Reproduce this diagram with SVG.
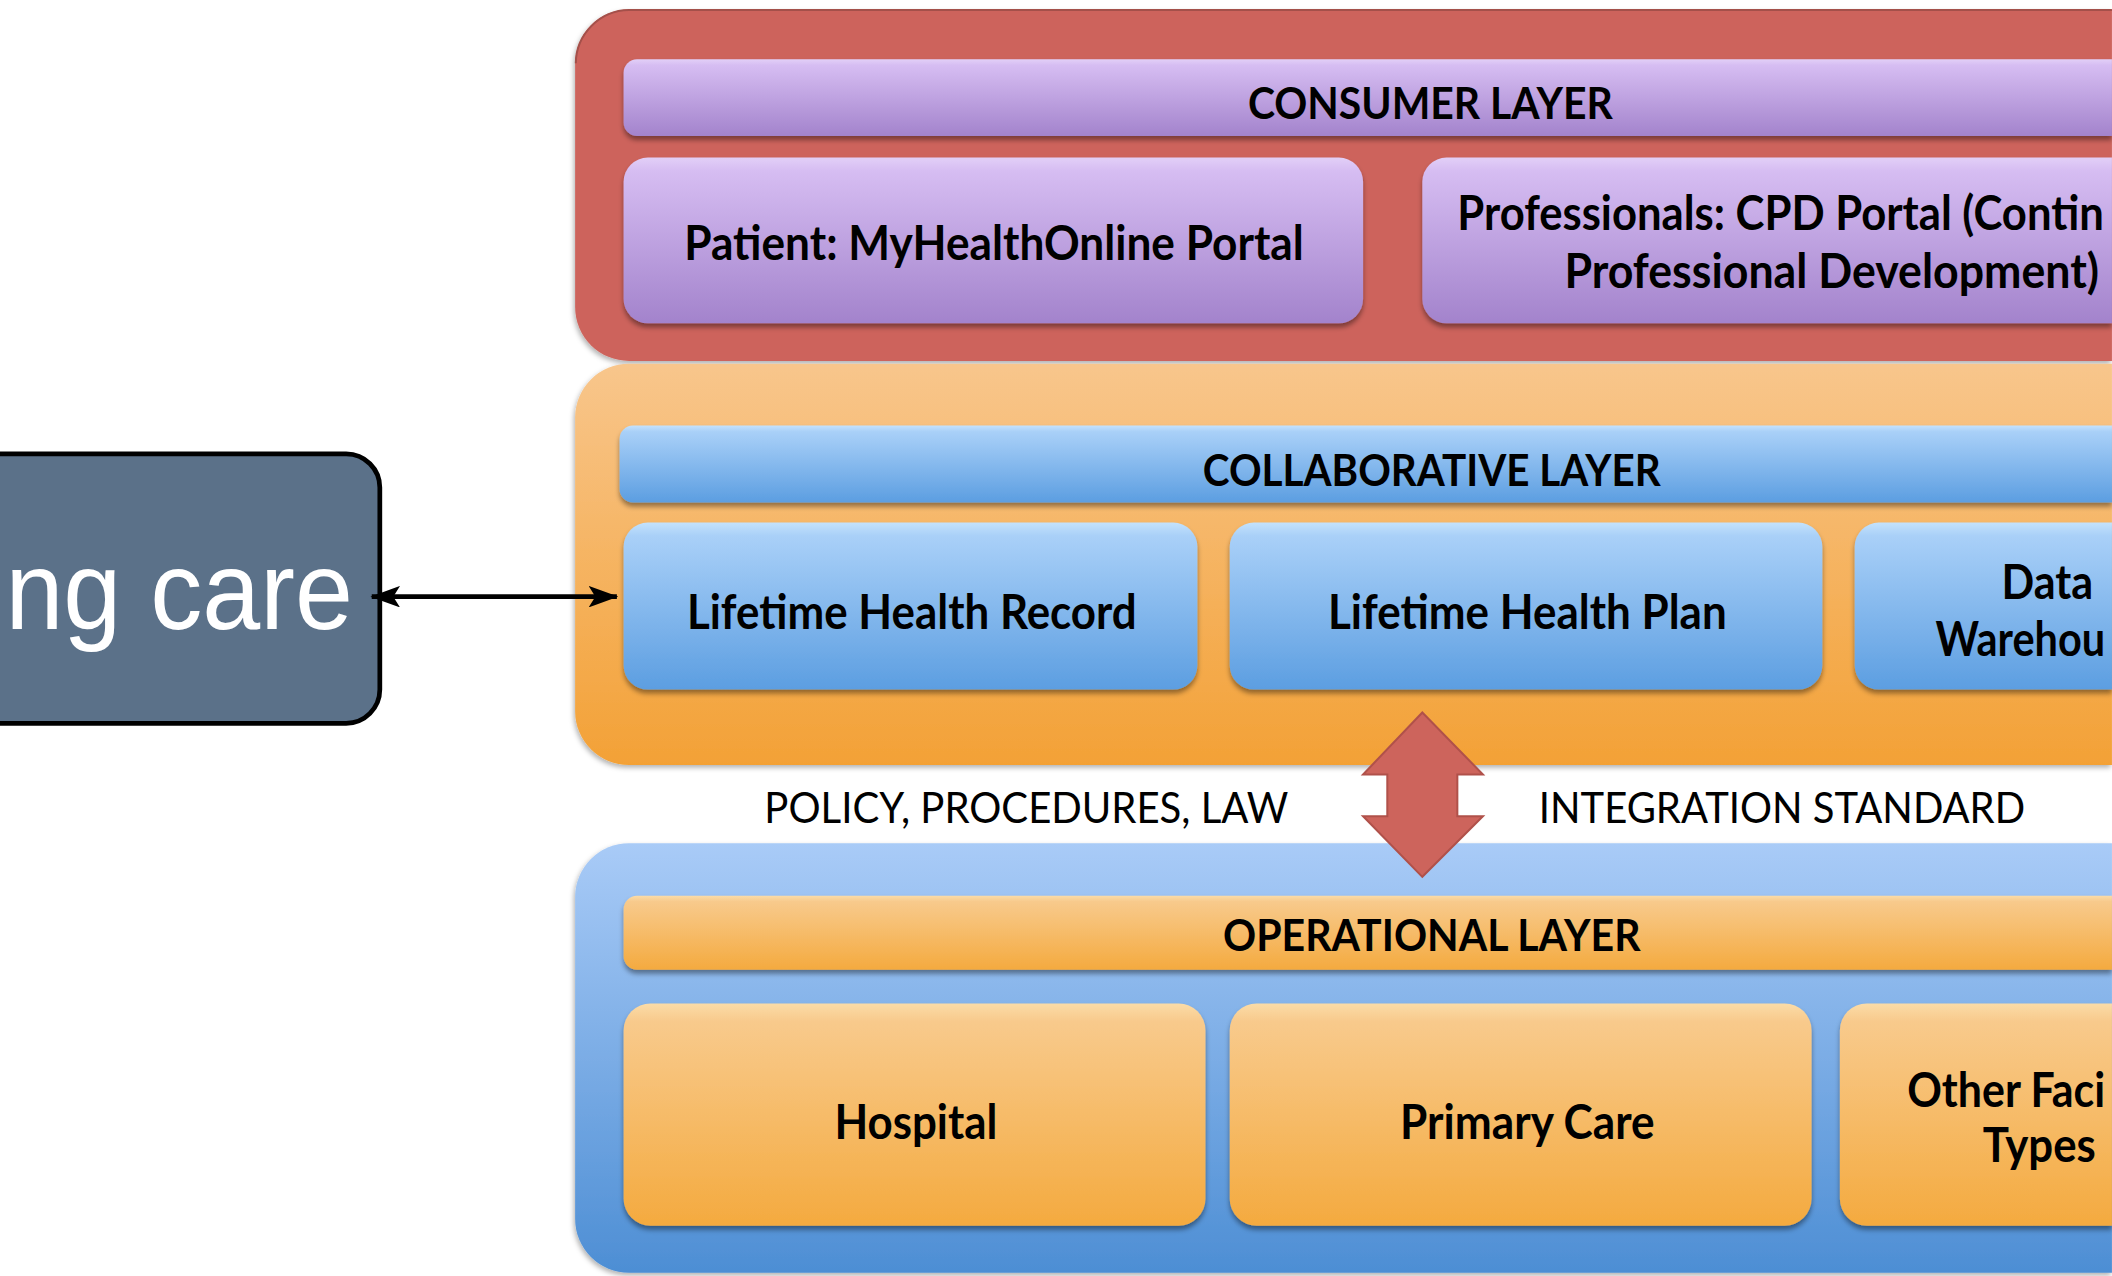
<svg xmlns="http://www.w3.org/2000/svg" width="2112" height="1276" viewBox="0 0 2112 1276">
<defs>
<linearGradient id="gPurple" x1="0" y1="0" x2="0" y2="1"><stop offset="0" stop-color="#e2cff7"/><stop offset="0.08" stop-color="#d6bdf2"/><stop offset="1" stop-color="#a383cc"/></linearGradient>
<linearGradient id="gBlue" x1="0" y1="0" x2="0" y2="1"><stop offset="0" stop-color="#c4e2fc"/><stop offset="0.08" stop-color="#a9d0f8"/><stop offset="1" stop-color="#5c9ee1"/></linearGradient>
<linearGradient id="gOrange" x1="0" y1="0" x2="0" y2="1"><stop offset="0" stop-color="#fbdca8"/><stop offset="0.08" stop-color="#f8ca8c"/><stop offset="1" stop-color="#f4aa3f"/></linearGradient>
<linearGradient id="gOrangeOuter" x1="0" y1="0" x2="0" y2="1"><stop offset="0" stop-color="#f8c68c"/><stop offset="1" stop-color="#f3a136"/></linearGradient>
<linearGradient id="gBlueOuter" x1="0" y1="0" x2="0" y2="1"><stop offset="0" stop-color="#a9cbf7"/><stop offset="1" stop-color="#4d8ed4"/></linearGradient>
<filter id="sh" x="-5%" y="-10%" width="110%" height="130%"><feDropShadow dx="0" dy="3" stdDeviation="2" flood-color="#000" flood-opacity="0.4"/></filter>
<filter id="shOuter" x="-5%" y="-5%" width="110%" height="115%"><feDropShadow dx="-1" dy="2" stdDeviation="2" flood-color="#000" flood-opacity="0.3"/></filter>
<marker id="ah" viewBox="0 0 22 16" refX="21" refY="8" markerWidth="22" markerHeight="16" markerUnits="userSpaceOnUse" orient="auto-start-reverse"><path d="M0 0 L22 8 L0 16 L5 8 Z" fill="#000"/></marker>
<style>
.lbl{font-family:Lato,"Open Sans","Liberation Sans",sans-serif;font-weight:700;font-size:36px;fill:#000;text-anchor:middle}
.hdr{font-family:Lato,"Open Sans","Liberation Sans",sans-serif;font-weight:700;font-size:32px;fill:#000;text-anchor:middle}
.st{text-anchor:start}
.side{font-family:Lato,"Open Sans","Liberation Sans",sans-serif;font-weight:400;font-size:31px;fill:#000;text-anchor:middle}
.big{font-family:"Liberation Sans",Arial,sans-serif;font-size:82px;fill:#fff;text-anchor:end}
</style>
</defs>
<rect width="2112" height="1276" fill="#fff"/>
<g transform="scale(1.3469)">
  <g id="left-node">
    <path d="M0 337 H257 A25 25 0 0 1 282 362 V512 A25 25 0 0 1 257 537 H0 Z" fill="#5b7189"/>
    <path d="M0 337 H257 A25 25 0 0 1 282 362 V512 A25 25 0 0 1 257 537 H0" fill="none" stroke="#000" stroke-width="3.5"/>
    <text class="big" x="262" y="467" textLength="258" lengthAdjust="spacingAndGlyphs">ng care</text>
  </g>

  <g id="consumer-layer">
    <path d="M1568 7 H467 A40 40 0 0 0 427 47 V228 A40 40 0 0 0 467 268 H1568 Z" fill="#cd645c" filter="url(#shOuter)"/>
    <path d="M1568 7.5 H467 A40 40 0 0 0 427.5 47" fill="none" stroke="#a4504a" stroke-width="1.5"/>
    <g id="consumer-header">
      <path d="M1568 44 H473 A10 10 0 0 0 463 54 V91 A10 10 0 0 0 473 101 H1568 Z" fill="url(#gPurple)" filter="url(#sh)"/>
      <text class="hdr" x="1062" y="88" textLength="271" lengthAdjust="spacingAndGlyphs">CONSUMER LAYER</text>
    </g>
    <g id="patient-portal">
      <rect x="463" y="117" width="549" height="123" rx="18" fill="url(#gPurple)" filter="url(#sh)"/>
      <text class="lbl" x="738" y="193" textLength="460" lengthAdjust="spacingAndGlyphs">Patient: MyHealthOnline Portal</text>
    </g>
    <g id="cpd-portal">
      <path d="M1568 117 H1074 A18 18 0 0 0 1056 135 V222 A18 18 0 0 0 1074 240 H1568 Z" fill="url(#gPurple)" filter="url(#sh)"/>
      <text class="lbl st" x="1082" y="171" textLength="480" lengthAdjust="spacingAndGlyphs">Professionals: CPD Portal (Contin</text>
      <text class="lbl" x="1360" y="214" textLength="397" lengthAdjust="spacingAndGlyphs">Professional Development)</text>
    </g>
  </g>

  <g id="collaborative-layer">
    <path d="M1568 270 H467 A40 40 0 0 0 427 310 V528 A40 40 0 0 0 467 568 H1568 Z" fill="url(#gOrangeOuter)" filter="url(#shOuter)"/>
    <g id="collab-header">
      <path d="M1568 316 H470 A10 10 0 0 0 460 326 V363 A10 10 0 0 0 470 373 H1568 Z" fill="url(#gBlue)" filter="url(#sh)"/>
      <text class="hdr" x="1063" y="361" textLength="340" lengthAdjust="spacingAndGlyphs">COLLABORATIVE LAYER</text>
    </g>
    <g id="lifetime-record">
      <rect x="463" y="388" width="426" height="124" rx="18" fill="url(#gBlue)" filter="url(#sh)"/>
      <text class="lbl" x="677" y="467" textLength="334" lengthAdjust="spacingAndGlyphs">Lifetime Health Record</text>
    </g>
    <g id="lifetime-plan">
      <rect x="913" y="388" width="440" height="124" rx="18" fill="url(#gBlue)" filter="url(#sh)"/>
      <text class="lbl" x="1134" y="467" textLength="296" lengthAdjust="spacingAndGlyphs">Lifetime Health Plan</text>
    </g>
    <g id="data-warehouse">
      <path d="M1568 388 H1395 A18 18 0 0 0 1377 406 V494 A18 18 0 0 0 1395 512 H1568 Z" fill="url(#gBlue)" filter="url(#sh)"/>
      <text class="lbl" x="1520" y="445" textLength="68" lengthAdjust="spacingAndGlyphs">Data</text>
      <text class="lbl st" x="1437" y="487" textLength="126" lengthAdjust="spacingAndGlyphs">Warehou</text>
    </g>
  </g>

  <g id="operational-layer">
    <path d="M1568 626 H467 A40 40 0 0 0 427 666 V905 A40 40 0 0 0 467 945 H1568 Z" fill="url(#gBlueOuter)" filter="url(#shOuter)"/>
    <g id="oper-header">
      <path d="M1568 665 H473 A10 10 0 0 0 463 675 V710 A10 10 0 0 0 473 720 H1568 Z" fill="url(#gOrange)" filter="url(#sh)"/>
      <text class="hdr" x="1063" y="706" textLength="310" lengthAdjust="spacingAndGlyphs">OPERATIONAL LAYER</text>
    </g>
    <g id="hospital">
      <rect x="463" y="745" width="432" height="165" rx="20" fill="url(#gOrange)" filter="url(#sh)"/>
      <text class="lbl" x="680" y="846" textLength="121" lengthAdjust="spacingAndGlyphs">Hospital</text>
    </g>
    <g id="primary-care">
      <rect x="913" y="745" width="432" height="165" rx="20" fill="url(#gOrange)" filter="url(#sh)"/>
      <text class="lbl" x="1134" y="846" textLength="189" lengthAdjust="spacingAndGlyphs">Primary Care</text>
    </g>
    <g id="other-facility">
      <path d="M1568 745 H1386 A20 20 0 0 0 1366 765 V890 A20 20 0 0 0 1386 910 H1568 Z" fill="url(#gOrange)" filter="url(#sh)"/>
      <text class="lbl st" x="1416" y="822" textLength="147" lengthAdjust="spacingAndGlyphs">Other Faci</text>
      <text class="lbl" x="1514" y="863" textLength="84" lengthAdjust="spacingAndGlyphs">Types</text>
    </g>
  </g>

  <g id="side-labels">
    <text class="side" x="762" y="611" textLength="389" lengthAdjust="spacingAndGlyphs">POLICY, PROCEDURES, LAW</text>
    <text class="side" x="1323" y="611" textLength="361" lengthAdjust="spacingAndGlyphs">INTEGRATION STANDARD</text>
  </g>

  <g id="connectors">
    <line x1="276" y1="443" x2="458" y2="443" stroke="#000" stroke-width="3.5" marker-start="url(#ah)" marker-end="url(#ah)"/>
    <polygon points="1056,529 1101,575 1082,575 1082,606 1101,606 1056,651 1012,606 1030,606 1030,575 1012,575" fill="#cd645c" stroke="#b0514a" stroke-width="1.5" stroke-linejoin="miter"/>
  </g>
</g>
</svg>
